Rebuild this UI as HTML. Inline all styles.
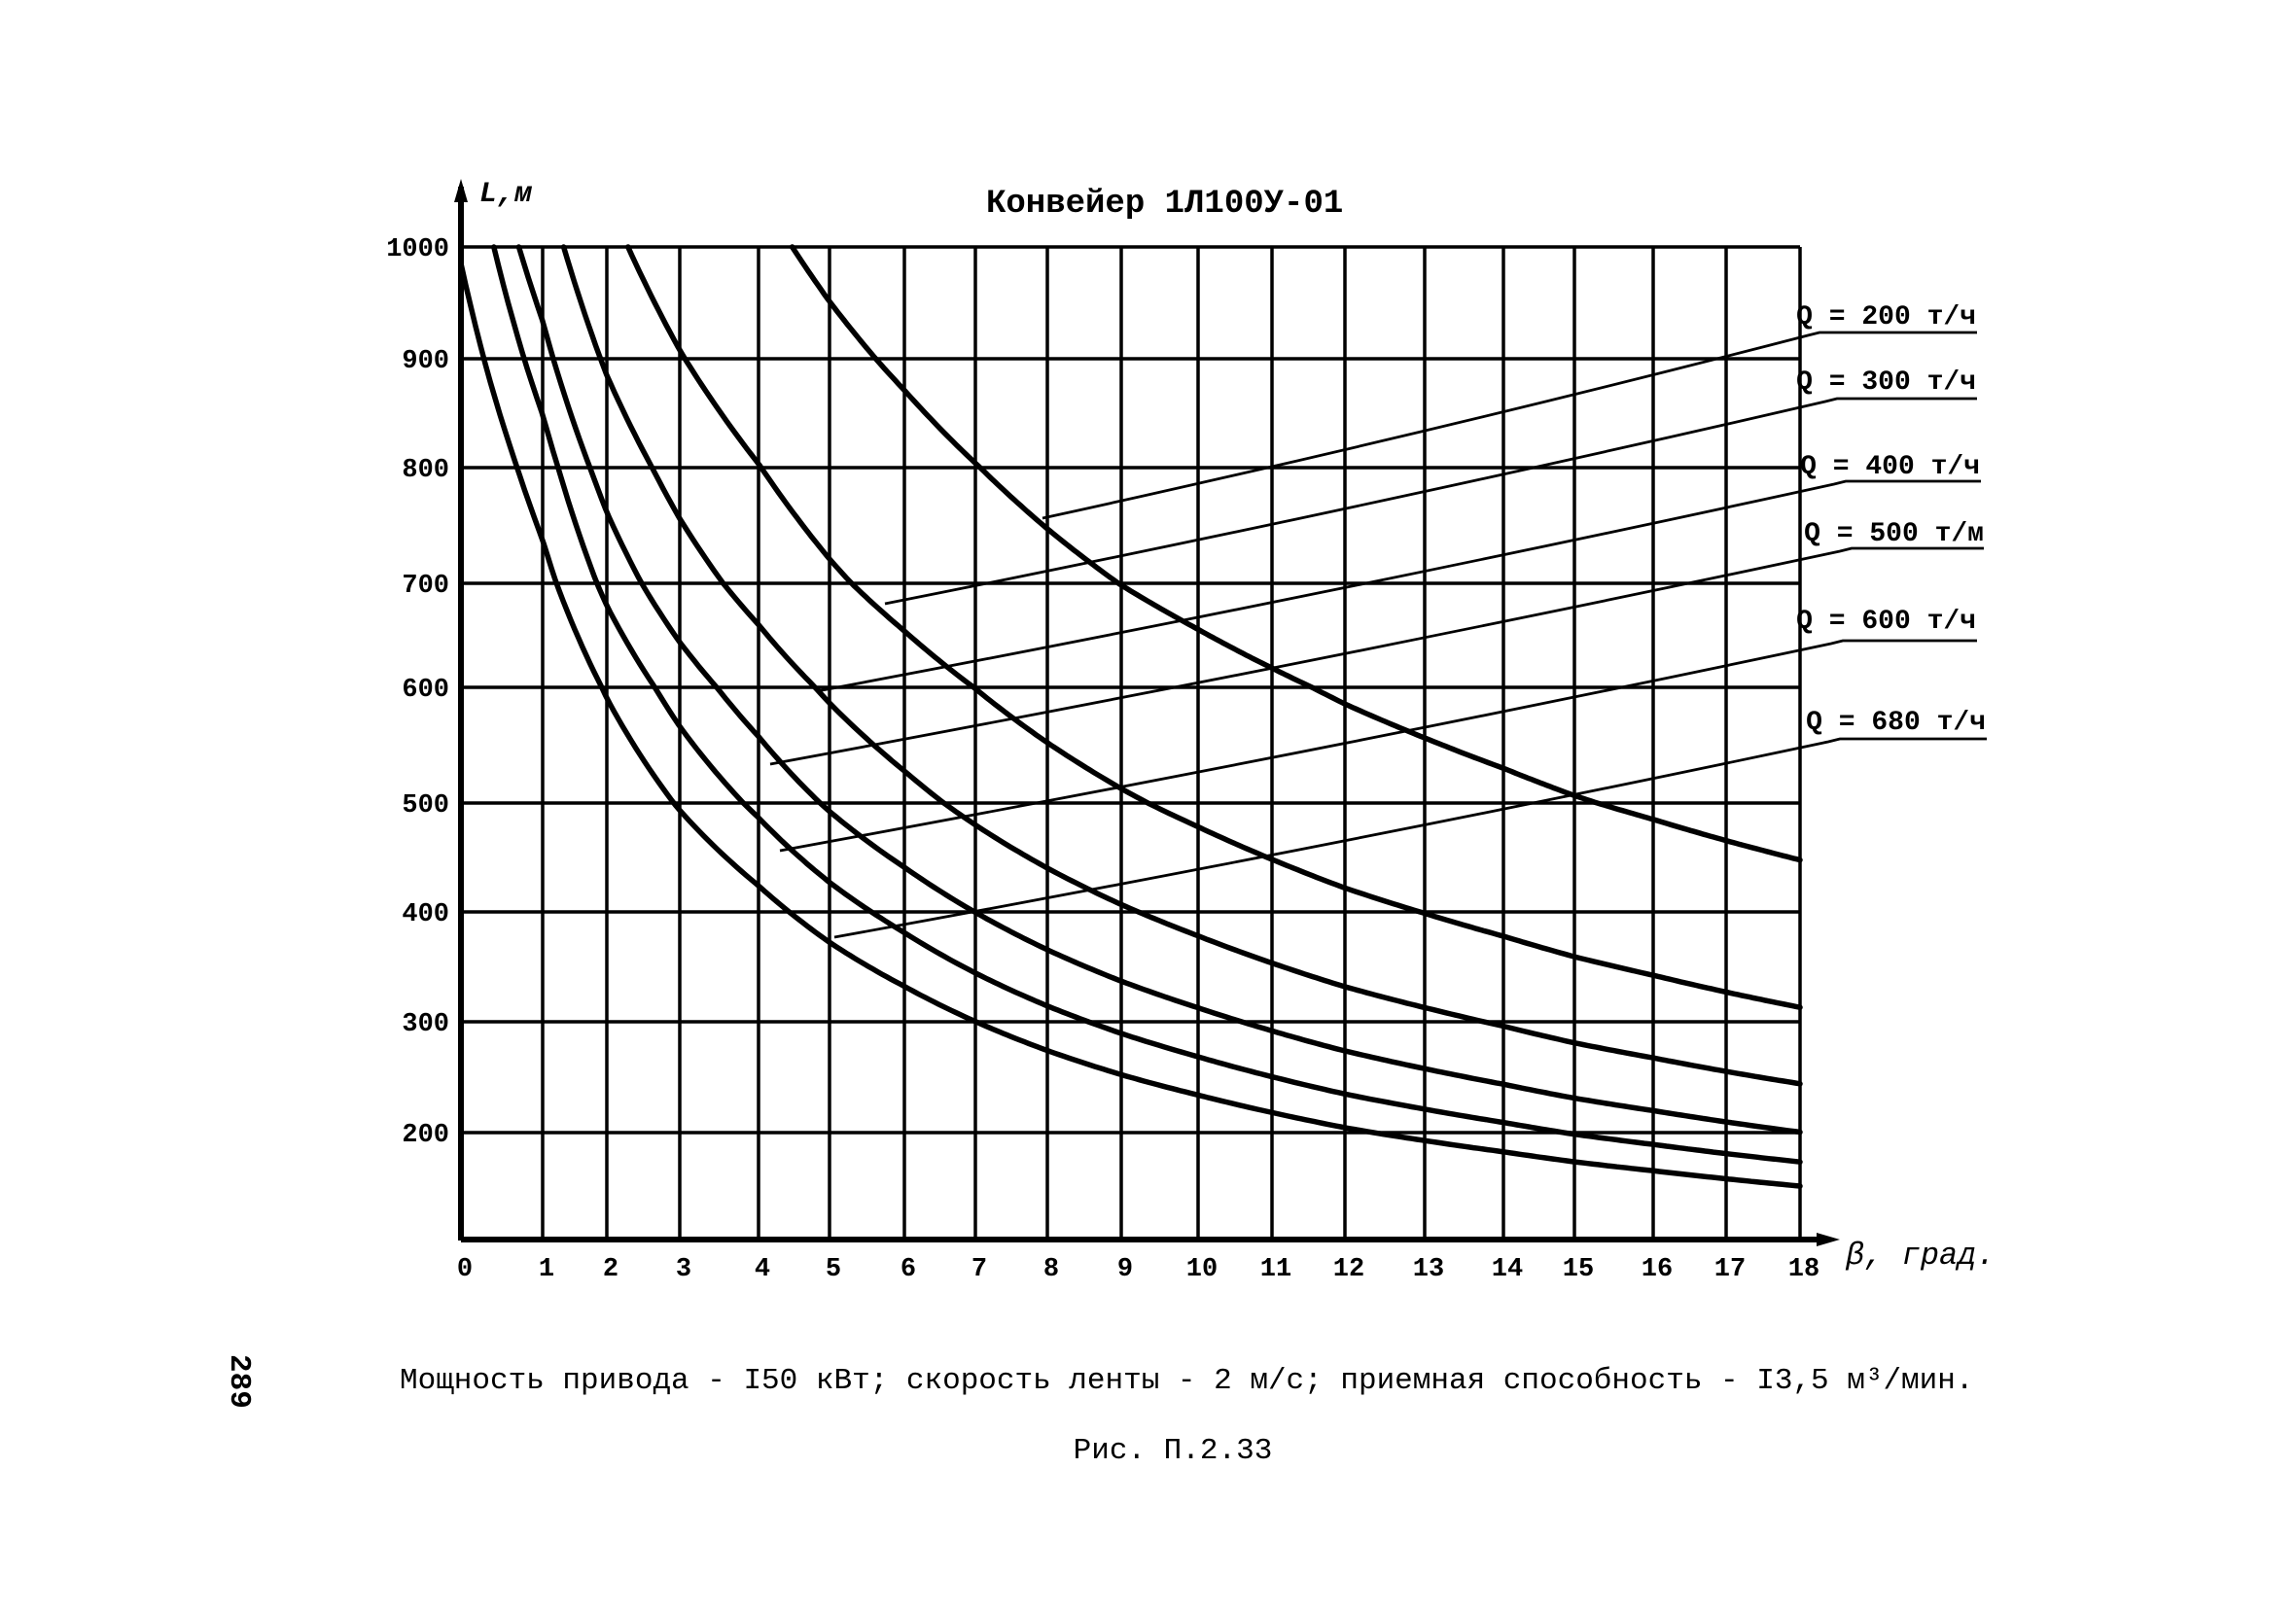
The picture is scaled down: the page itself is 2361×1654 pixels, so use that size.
<!DOCTYPE html>
<html><head><meta charset="utf-8"><style>
html,body{margin:0;padding:0;background:#fff;}
svg{display:block;}
text{font-family:"Liberation Mono","DejaVu Sans Mono",monospace;fill:#000;}
.t{font-weight:bold;}
</style></head><body>
<svg id="s" width="2361" height="1654" viewBox="0 0 2361 1654" xmlns="http://www.w3.org/2000/svg">
<rect width="2361" height="1654" fill="#fff"/>
<g id="grid" stroke="#000" stroke-width="3.5" fill="none"></g>
<g id="curves" stroke="#000" stroke-width="5.5" fill="none" stroke-linecap="round"></g>
<g id="qlines" stroke="#000" stroke-width="2.8" fill="none"></g>
<line x1="474" y1="192" x2="474" y2="1276" stroke="#000" stroke-width="6"/>
<polygon points="474,184 467,208 481,208" fill="#000"/>
<line x1="474" y1="1275" x2="1880" y2="1275" stroke="#000" stroke-width="6"/>
<polygon points="1892,1275 1868,1268 1868,1282" fill="#000"/>
<text x="493" y="207" font-size="30" font-style="italic" class="t" font-family="Liberation Serif">L,м</text>
<text x="1014" y="218" font-size="34" class="t">Конвейер 1Л100У-01</text>
<g id="ylab" font-size="27" class="t" text-anchor="end"></g>
<g id="xlab" font-size="27" class="t" text-anchor="middle"></g>
<text x="1898" y="1300" font-size="32" font-style="italic" font-family="Liberation Serif">β, град.</text>
<g font-size="28" class="t" text-anchor="end">
<text x="2032" y="333">Q = 200 т/ч</text>
<text x="2032" y="400">Q = 300 т/ч</text>
<text x="2036" y="487">Q = 400 т/ч</text>
<text x="2040" y="556">Q = 500 т/м</text>
<text x="2032" y="646">Q = 600 т/ч</text>
<text x="2042" y="750">Q = 680 т/ч</text>
</g>
<text x="411" y="1428" font-size="31">Мощность привода - I50 кВт; скорость ленты - 2 м/с; приемная способность - I3,5 м³/мин.</text>
<text x="1206" y="1500" font-size="31" text-anchor="middle">Рис. П.2.33</text>
<text transform="translate(238,1393) rotate(90)" font-size="31" class="t">289</text>
</svg>
<script>
var XS=[474,558,624,699,780,853,930,1003,1077,1153,1232,1308,1383,1465,1546,1619,1700,1775,1851];
var YL=[1000,900,800,700,600,500,400,300,200,100];
var YS=[254,369,481,600,707,826,938,1051,1165,1275];
function mx(d){var i=Math.min(Math.floor(d),17);if(i<0)i=0;return XS[i]+(d-i)*(XS[i+1]-XS[i]);}
function my(L){for(var i=0;i<9;i++){if(L<=YL[i]&&L>=YL[i+1]){return YS[i]+(YL[i]-L)/100*(YS[i+1]-YS[i]);}}return L>1000?YS[0]:YS[9];}
var NS="http://www.w3.org/2000/svg";
function el(p,tag,a,txt){var e=document.createElementNS(NS,tag);for(var k in a)e.setAttribute(k,a[k]);if(txt!==undefined)e.textContent=txt;document.getElementById(p).appendChild(e);return e;}
for(var i=1;i<19;i++){el('grid','line',{x1:XS[i],y1:254,x2:XS[i],y2:1275});}
for(var j=0;j<9;j++){el('grid','line',{x1:474,y1:YS[j],x2:1851,y2:YS[j]});}
for(var j=0;j<9;j++){el('ylab','text',{x:462,y:YS[j]+9},String(YL[j]));}
for(var i=0;i<19;i++){el('xlab','text',{x:XS[i]+4,y:1312},String(i));}
var C=[
[[0.02,1000],[0.24,900],[0.6,800],[1,730],[2,600],[3,500],[4,430],[5,376],[6,336],[7,303],[8,273],[9,247],[10,230],[11,217],[12,201],[13,189],[14,180],[15,172],[16,165],[17,159],[18,153]],
[[0.4,1000],[0.8,900],[1,835],[2,697],[3,565],[4,476],[5,424],[6,379],[7,343],[8,313],[9,289],[10,272],[11,257],[12,240],[13,225],[14,210],[15,198],[16,187],[17,177],[18,168]],
[[0.7,1000],[1,934],[1.1,900],[2,795],[3,645],[4,545],[5,478],[6,436],[7,400],[8,365],[9,336],[10,315],[11,297],[12,279],[13,260],[14,243],[15,231],[16,219],[17,209],[18,200]],
[[1.3,1000],[1.95,900],[3,760],[4,658],[5,580],[6,526],[7,485],[8,440],[9,400],[10,376],[11,359],[12,335],[13,315],[14,297],[15,278],[16,266],[17,255],[18,245]],
[[2.3,1000],[3,905],[4,800],[5,727],[6,660],[7,600],[8,548],[9,500],[10,478],[11,454],[12,424],[13,397],[14,382],[15,358],[16,343],[17,327],[18,312]],
[[4.5,1000],[5,950],[6,870],[7,800],[8,750],[9,697],[10,655],[11,621],[12,587],[13,557],[14,530],[15,507],[16,486],[17,465],[18,445]]
];
C.forEach(function(c){
 var best=null;
 for(var cc=-0.5;cc<40;cc+=0.02){
  var n=c.length,su=0,sL=0,suu=0,suL=0,ok=true;
  for(var k=0;k<n;k++){var b=c[k][0]+cc;if(b<=0.01){ok=false;break;}var u=1/b;su+=u;sL+=c[k][1];suu+=u*u;suL+=u*c[k][1];}
  if(!ok)continue;
  var den=n*suu-su*su;if(Math.abs(den)<1e-12)continue;
  var a=(n*suL-su*sL)/den,d=(sL-a*su)/n,e=0;
  for(var k=0;k<n;k++){var r=a/(c[k][0]+cc)+d-c[k][1];e+=r*r;}
  if(!best||e<best.e)best={e:e,a:a,c:cc,d:d};
 }
 var b0=best.a/(1000-best.d)-best.c; if(b0<0)b0=0;
 var d='';
 for(var t=0;t<=300;t++){
  var bb=b0+(18-b0)*t/300;var L=best.a/(bb+best.c)+best.d;if(L>1000)L=1000;
  d+=(t?' L':'M')+mx(bb).toFixed(1)+' '+my(L).toFixed(1);
 }
 el('curves','path',{d:d});
});
var Q=[[1072,533,1859,345,2033],[910,621,1877,413,2033],[840,711,1886,498,2037],[792,786,1892,567,2040],[802,875,1883,662,2033],[858,964,1880,763,2043]];
Q.forEach(function(q){
 var mxp=(q[0]+q[2])/2, myp=(q[1]+q[3])/2+8;
 el('qlines','path',{d:'M'+q[0]+' '+q[1]+' Q'+mxp+' '+myp+' '+q[2]+' '+q[3]+' L'+(q[2]+12)+' '+(q[3]-3)+' L'+q[4]+' '+(q[3]-3)});
});
</script>
</body></html>
